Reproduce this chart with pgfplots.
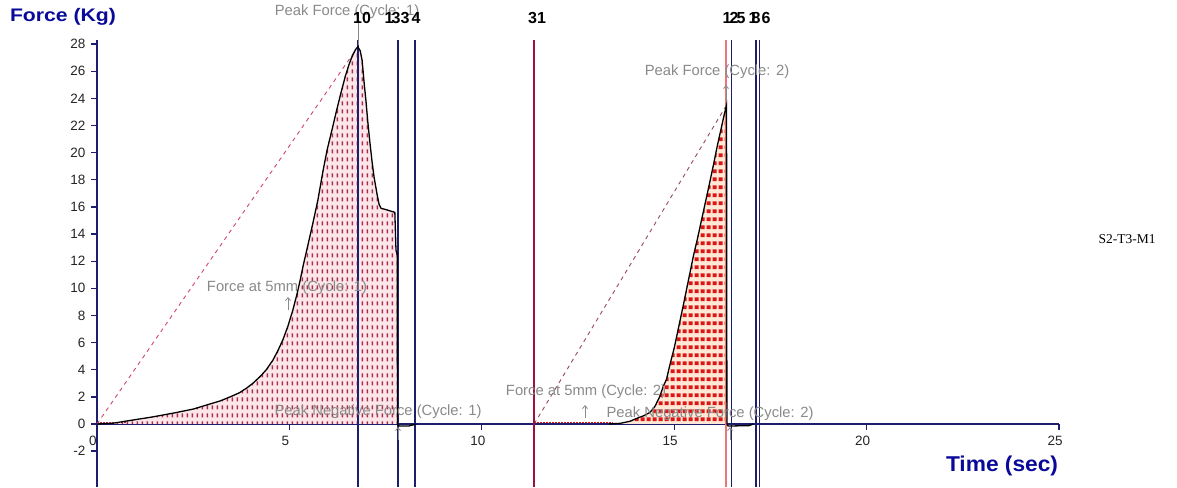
\documentclass[border=0pt]{standalone}
\usepackage{pgfplots}
\pgfplotsset{compat=1.18}
\usepackage{fontspec}
\setmainfont{Liberation Sans}
\newfontfamily\seriffont{Liberation Serif}
\usetikzlibrary{patterns,arrows.meta}
\definecolor{navy}{HTML}{1E1E6E}
\definecolor{labblue}{HTML}{0A0A9A}
\definecolor{annogray}{HTML}{8A8A8A}
\definecolor{cbg}{HTML}{FCE6EA}
\definecolor{cdot}{HTML}{A8304E}
\definecolor{cbgb}{HTML}{FFE9D6}
\definecolor{cdotb}{HTML}{DD1515}
\definecolor{crim}{HTML}{A0103C}
\definecolor{pinkline}{HTML}{E87878}
\definecolor{dashred}{HTML}{D04868}
\definecolor{dashdark}{HTML}{9A4A58}
\pgfdeclarepatternformonly{cyc1}{\pgfpointorigin}{\pgfpoint{5.3pt}{7.6pt}}{\pgfpoint{5.3pt}{7.6pt}}{%
  \pgfpathrectangle{\pgfpoint{1.8pt}{1.8pt}}{\pgfpoint{1.7pt}{4pt}}\pgfusepath{fill}}
\pgfdeclarepatternformonly{cyc2}{\pgfpointorigin}{\pgfpoint{5.6pt}{8pt}}{\pgfpoint{5.6pt}{8pt}}{%
  \pgfpathrectangle{\pgfpoint{0.6pt}{2pt}}{\pgfpoint{4.2pt}{4.4pt}}\pgfusepath{fill}}
\begin{document}
\begin{tikzpicture}[x=1pt,y=1pt]
\useasboundingbox (0,0) rectangle (1177,487);
\fill[white] (0,0) rectangle (1177,487);
\begin{axis}[
  at={(97pt,0pt)}, anchor=south west,
  scale only axis, width=962pt, height=447pt,
  xmin=0, xmax=25, ymin=-4.643, ymax=28.3,
  axis x line=middle, axis y line=left,
  axis line style={-, navy, line width=1.6pt},
  hide obscured x ticks=false, hide obscured y ticks=false,
  xtick={0,5,10,15,20,25}, ytick={-2,0,2,...,28},
  tick align=outside, major tick length=6pt,
  tick style={navy, line width=1.3pt},
  every tick label/.append style={font=\fontsize{13.5}{13.5}\selectfont, text=black!85},
  xticklabel style={yshift=-3pt, xshift=-4pt},
  yticklabel style={xshift=-2pt},
  /pgf/number format/assume math mode=true,
  clip=false,
]
% fills
\addplot[draw=none, preaction={fill=cbg}, pattern=cyc1, pattern color=cdot] coordinates {
(0,0) (0.4,0.05) (0.77,0.22) (1.4,0.5) (1.98,0.8) (2.5,1.1) (2.85,1.4) (3.2,1.7) (3.46,2.0) (3.7,2.3) (3.89,2.65) (4.05,3.0) (4.24,3.5) (4.4,4.0) (4.57,4.7) (4.7,5.4) (4.83,6.2) (4.96,7.2) (5.09,8.4) (5.2,9.6) (5.28,10.6) (5.36,11.7) (5.45,12.8) (5.53,13.8) (5.61,14.8) (5.74,16.5) (5.87,18.6) (5.98,20.2) (6.1,21.6) (6.2,22.8) (6.33,24.3) (6.45,25.6) (6.55,26.5) (6.63,27.1) (6.72,27.6) (6.78,27.8) (6.84,27.5) (6.89,26.8) (6.94,25.2) (6.99,23.8) (7.04,22.2) (7.09,20.8) (7.15,19.3) (7.2,18.2) (7.28,16.9) (7.33,16.2) (7.38,15.9) (7.51,15.8) (7.62,15.7) (7.74,15.6) (7.77,12.8) (7.80,12.5) (7.81,0)
} \closedcycle;
\addplot[draw=none, preaction={fill=cbgb}, pattern=cyc2, pattern color=cdotb] coordinates {
(13.3,0) (13.6,0.05) (13.85,0.2) (14.03,0.42) (14.2,0.6) (14.37,0.85) (14.5,1.3) (14.62,2.0) (14.72,2.8) (14.8,3.3) (14.9,4.5) (15.0,5.6) (15.12,7.2) (15.24,8.8) (15.37,10.6) (15.5,12.4) (15.6,13.6) (15.7,14.9) (15.8,16.2) (15.9,17.5) (16.02,19.1) (16.12,20.5) (16.23,21.9) (16.3,22.8) (16.36,23.5) (16.37,0)
} \closedcycle;
% baseline dotted
\addplot[cdot, line width=1.2pt, dash pattern=on 1.5pt off 1.5pt] coordinates {(0,0.12) (0.8,0.12)};
\addplot[cdotb, line width=1.2pt, dash pattern=on 1.5pt off 1.5pt] coordinates {(11.36,0.12) (13.4,0.12)};
% dashed lines
\addplot[dashred, line width=0.9pt, dash pattern=on 4pt off 4pt] coordinates {(0,0) (6.78,27.8)};
\addplot[dashdark, line width=0.9pt, dash pattern=on 4pt off 4pt] coordinates {(11.36,0) (16.36,23.5)};
% vertical marker lines
\addplot[navy, line width=1.4pt] coordinates {(6.78,-4.643) (6.78,28.3)};
\addplot[navy, line width=1.4pt] coordinates {(7.82,-4.643) (7.82,28.3)};
\addplot[navy, line width=1.4pt] coordinates {(8.26,-4.643) (8.26,28.3)};
\addplot[crim, line width=2.6pt] coordinates {(11.36,-4.643) (11.36,28.3)};
\addplot[pinkline, line width=1.6pt] coordinates {(16.34,-4.643) (16.34,28.3)};
\addplot[navy, line width=1.4pt] coordinates {(16.49,-4.643) (16.49,28.3)};
\addplot[navy, line width=1.4pt] coordinates {(17.13,-4.643) (17.13,28.3)};
\addplot[navy, line width=1.4pt] coordinates {(17.22,-4.643) (17.22,28.3)};
% curves
\addplot[black, line width=1.3pt] coordinates {
(0,0) (0.4,0.05) (0.77,0.22) (1.4,0.5) (1.98,0.8) (2.5,1.1) (2.85,1.4) (3.2,1.7) (3.46,2.0) (3.7,2.3) (3.89,2.65) (4.05,3.0) (4.24,3.5) (4.4,4.0) (4.57,4.7) (4.7,5.4) (4.83,6.2) (4.96,7.2) (5.09,8.4) (5.2,9.6) (5.28,10.6) (5.36,11.7) (5.45,12.8) (5.53,13.8) (5.61,14.8) (5.74,16.5) (5.87,18.6) (5.98,20.2) (6.1,21.6) (6.2,22.8) (6.33,24.3) (6.45,25.6) (6.55,26.5) (6.63,27.1) (6.72,27.6) (6.78,27.8) (6.84,27.5) (6.89,26.8) (6.94,25.2) (6.99,23.8) (7.04,22.2) (7.09,20.8) (7.15,19.3) (7.2,18.2) (7.28,16.9) (7.33,16.2) (7.38,15.9) (7.51,15.8) (7.62,15.7) (7.74,15.6) (7.77,12.8) (7.80,12.5) (7.81,0) (7.85,-0.15) (8.1,-0.15) (8.3,0)
};
\addplot[black, line width=1.3pt] coordinates {
(13.3,0) (13.6,0.05) (13.85,0.2) (14.03,0.42) (14.2,0.6) (14.37,0.85) (14.5,1.3) (14.62,2.0) (14.72,2.8) (14.8,3.3) (14.9,4.5) (15.0,5.6) (15.12,7.2) (15.24,8.8) (15.37,10.6) (15.5,12.4) (15.6,13.6) (15.7,14.9) (15.8,16.2) (15.9,17.5) (16.02,19.1) (16.12,20.5) (16.23,21.9) (16.3,22.8) (16.36,23.5) (16.37,0) (16.4,-0.15) (16.95,-0.12) (17.05,0)
};
\end{axis}
% axis titles
\node[text=labblue] at (63,470) {\resizebox*{106pt}{17pt}{\bfseries Force (Kg)}};
\node[text=labblue] at (1002,21) {\resizebox*{112pt}{20pt}{\bfseries Time (sec)}};
\node at (1127,248) {\seriffont\fontsize{13.5}{13.5}\selectfont S2-T3-M1};
% annotations
\begin{scope}[annogray, font=\fontsize{14.8}{16}\selectfont]
\node at (347,475) {Peak Force (Cycle: 1)};
\node at (717,415) {Peak Force (Cycle: 2)};
\node at (287,199) {Force at 5mm (Cycle: 1)};
\node at (586,95) {Force at 5mm (Cycle: 2)};
\node at (378,75) {Peak Negative Force (Cycle: 1)};
\node at (710,73) {Peak Negative Force (Cycle: 2)};
\draw[line width=0.8pt, -{Straight Barb[length=3pt,width=5pt]}] (358,442) -- (358,468);
\draw[line width=0.8pt, -{Straight Barb[length=3pt,width=5pt]}] (726,386) -- (726,402);
\draw[line width=0.8pt, -{Straight Barb[length=3pt,width=5pt]}] (288,177) -- (288,190);
\draw[line width=0.8pt, -{Straight Barb[length=3pt,width=5pt]}] (585,69) -- (585,82);
\draw[line width=0.8pt, -{Straight Barb[length=3pt,width=5pt]}] (398,47) -- (398,60);
\draw[line width=0.8pt, -{Straight Barb[length=3pt,width=5pt]}] (730,47) -- (730,60);
\end{scope}
% marker numbers
\begin{scope}[font=\bfseries\fontsize{16}{16}\selectfont, inner sep=0pt]
\node at (362,469) {10};
\node at (389,469) {1};
\node at (396,469) {3};
\node at (405,469) {3};
\node at (416,469) {4};
\node at (537,469) {31};
\node at (727,469) {1};
\node at (734,469) {2};
\node at (741,469) {5};
\node at (753,469) {1};
\node at (756,469) {8};
\node at (766,469) {6};
\end{scope}
\end{tikzpicture}
\end{document}
